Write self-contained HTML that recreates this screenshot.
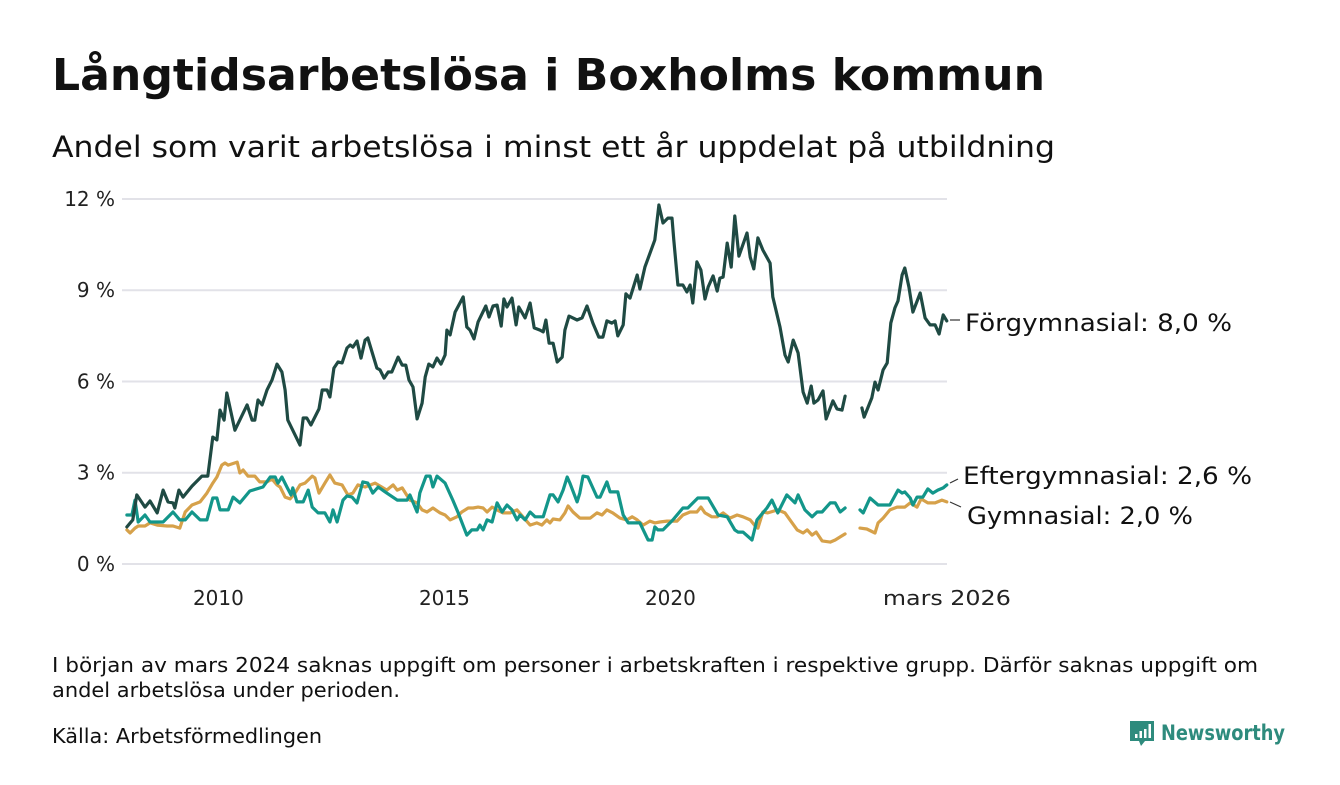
<!DOCTYPE html>
<html><head><meta charset="utf-8"><style>
body{margin:0;background:#fff;width:1340px;height:780px;overflow:hidden;font-family:"Liberation Sans","DejaVu Sans",sans-serif;color:#111;}
svg text{font-family:"DejaVu Sans","Liberation Sans",sans-serif;}
</style></head><body>
<svg id="chart" width="1340" height="780" viewBox="0 0 1340 780" xmlns="http://www.w3.org/2000/svg">
<text x="52" y="90" font-size="44" font-weight="bold" fill="#111" textLength="993" lengthAdjust="spacingAndGlyphs">Långtidsarbetslösa i Boxholms kommun</text>
<text x="52" y="157" font-size="29" fill="#111" textLength="1003" lengthAdjust="spacingAndGlyphs">Andel som varit arbetslösa i minst ett år uppdelat på utbildning</text>
<g id="grid"></g>
<g id="yticks"></g>
<g id="xticks"></g>
<g id="series"></g>
<g id="labels"></g>
<text x="52" y="672" font-size="20" fill="#111" textLength="1206" lengthAdjust="spacingAndGlyphs">I början av mars 2024 saknas uppgift om personer i arbetskraften i respektive grupp. Därför saknas uppgift om</text>
<text x="52" y="697" font-size="20" fill="#111" textLength="348" lengthAdjust="spacingAndGlyphs">andel arbetslösa under perioden.</text>
<text x="52" y="743" font-size="20" fill="#111" textLength="270" lengthAdjust="spacingAndGlyphs">Källa: Arbetsförmedlingen</text>
<g>
<path d="M1130 721 h24 v20 h-9 l-4 5 l-2 -5 h-9 z" fill="#2e8b7d"/>
<rect x="1135" y="734" width="2.5" height="4" fill="#fff"/><rect x="1139.5" y="731" width="2.5" height="7" fill="#fff"/><rect x="1144" y="729" width="2.5" height="9" fill="#fff"/><rect x="1148.5" y="724" width="2.5" height="14" fill="#fff"/>
<text x="1161" y="740" font-size="21" font-weight="bold" fill="#2e8b7d" textLength="124" lengthAdjust="spacingAndGlyphs">Newsworthy</text>
</g>
</svg>
<script>
const yTicks=[0,3,6,9,12];
const yTickLabels=["0 %","3 %","6 %","9 %","12 %"];
const xTicks=[2010,2015,2020,2026.16];
const xTickLabels=["2010","2015","2020","mars 2026"];
const forgDates=[2008.02,2008.15,2008.24,2008.42,2008.53,2008.69,2008.82,2008.93,2009.04,2009.08,2009.17,2009.26,2009.46,2009.68,2009.81,2009.92,2010.01,2010.08,2010.17,2010.23,2010.41,2010.68,2010.79,2010.85,2010.92,2011.01,2011.12,2011.23,2011.34,2011.45,2011.52,2011.58,2011.85,2011.92,2012.00,2012.09,2012.27,2012.34,2012.45,2012.51,2012.60,2012.69,2012.78,2012.89,2012.96,2013.02,2013.11,2013.20,2013.29,2013.35,2013.55,2013.62,2013.71,2013.80,2013.88,2014.02,2014.11,2014.19,2014.26,2014.35,2014.44,2014.55,2014.62,2014.70,2014.79,2014.88,2014.97,2015.06,2015.10,2015.17,2015.28,2015.46,2015.54,2015.61,2015.70,2015.79,2015.96,2016.03,2016.12,2016.21,2016.30,2016.36,2016.43,2016.54,2016.63,2016.69,2016.83,2016.94,2017.03,2017.16,2017.23,2017.29,2017.36,2017.45,2017.54,2017.65,2017.71,2017.80,2017.98,2018.09,2018.20,2018.33,2018.46,2018.55,2018.64,2018.75,2018.82,2018.88,2019.00,2019.06,2019.15,2019.31,2019.37,2019.48,2019.70,2019.79,2019.88,2019.99,2020.08,2020.12,2020.21,2020.32,2020.41,2020.48,2020.54,2020.63,2020.72,2020.81,2020.88,2020.99,2021.08,2021.14,2021.21,2021.30,2021.39,2021.47,2021.56,2021.74,2021.81,2021.89,2021.98,2022.09,2022.25,2022.31,2022.47,2022.58,2022.65,2022.76,2022.87,2022.98,2023.07,2023.16,2023.22,2023.31,2023.42,2023.49,2023.64,2023.73,2023.84,2023.91,2024.10,2024.28,2024.33,2024.50,2024.57,2024.64,2024.75,2024.84,2024.92,2025.01,2025.08,2025.17,2025.23,2025.32,2025.41,2025.57,2025.68,2025.79,2025.90,2025.99,2026.08,2026.16];
const forgValues=[1.22,1.45,2.27,1.87,2.07,1.68,2.43,2.04,2.01,1.84,2.43,2.20,2.56,2.89,2.89,4.17,4.08,5.06,4.73,5.62,4.40,5.23,4.73,4.73,5.39,5.23,5.72,6.05,6.57,6.31,5.72,4.73,3.91,4.80,4.80,4.57,5.10,5.72,5.72,5.49,6.44,6.64,6.61,7.10,7.20,7.13,7.33,6.77,7.36,7.43,6.44,6.38,6.11,6.31,6.31,6.80,6.54,6.54,6.05,5.82,4.77,5.29,6.15,6.57,6.48,6.77,6.57,6.87,7.69,7.53,8.28,8.78,7.79,7.69,7.40,7.96,8.48,8.12,8.48,8.51,7.82,8.71,8.45,8.74,7.86,8.45,8.09,8.58,7.76,7.69,7.63,8.02,7.26,7.26,6.64,6.80,7.69,8.15,8.02,8.09,8.48,7.92,7.46,7.46,7.99,7.92,7.99,7.50,7.86,8.88,8.74,9.50,9.04,9.76,10.65,11.80,11.21,11.37,11.37,10.65,9.17,9.17,8.94,9.17,8.58,9.93,9.66,8.71,9.11,9.47,8.97,9.40,9.43,10.55,9.76,11.44,10.12,10.88,10.09,9.70,10.72,10.32,9.89,8.78,7.79,6.87,6.64,7.36,6.94,5.65,5.29,5.85,5.29,5.39,5.69,4.77,5.36,5.10,5.06,5.52,null,5.13,4.83,5.46,5.98,5.72,6.38,6.61,7.92,8.42,8.65,9.50,9.73,9.11,8.28,8.91,8.09,7.86,7.86,7.56,8.19,7.99];
const efterDates=[2008.02,2008.13,2008.20,2008.27,2008.42,2008.53,2008.82,2009.04,2009.19,2009.31,2009.46,2009.64,2009.79,2009.92,2010.01,2010.08,2010.26,2010.37,2010.52,2010.74,2011.03,2011.19,2011.30,2011.36,2011.45,2011.56,2011.65,2011.69,2011.78,2011.92,2012.03,2012.12,2012.25,2012.40,2012.51,2012.58,2012.67,2012.80,2012.89,2013.00,2013.11,2013.24,2013.35,2013.46,2013.58,2013.77,2014.00,2014.22,2014.28,2014.44,2014.50,2014.64,2014.73,2014.79,2014.88,2015.06,2015.23,2015.35,2015.54,2015.65,2015.77,2015.83,2015.90,2015.99,2016.10,2016.21,2016.32,2016.43,2016.54,2016.65,2016.72,2016.83,2016.94,2017.05,2017.23,2017.38,2017.45,2017.56,2017.67,2017.76,2017.82,2017.98,2018.04,2018.11,2018.22,2018.42,2018.49,2018.64,2018.71,2018.88,2019.00,2019.11,2019.37,2019.55,2019.64,2019.70,2019.77,2019.88,2020.10,2020.32,2020.43,2020.65,2020.88,2021.10,2021.30,2021.47,2021.54,2021.65,2021.85,2021.96,2022.18,2022.29,2022.42,2022.62,2022.80,2022.87,2023.02,2023.18,2023.29,2023.40,2023.58,2023.69,2023.80,2023.91,2024.10,2024.24,2024.31,2024.46,2024.64,2024.90,2025.08,2025.17,2025.23,2025.35,2025.41,2025.50,2025.63,2025.74,2025.85,2025.96,2026.08,2026.16];
const efterValues=[1.61,1.61,2.10,1.38,1.61,1.38,1.38,1.71,1.45,1.45,1.71,1.45,1.45,2.17,2.17,1.78,1.78,2.20,2.01,2.40,2.53,2.86,2.86,2.66,2.86,2.53,2.27,2.50,2.04,2.04,2.43,1.87,1.68,1.68,1.38,1.78,1.38,2.10,2.24,2.20,2.01,2.70,2.66,2.33,2.53,2.33,2.10,2.10,2.27,1.71,2.33,2.89,2.89,2.53,2.89,2.66,2.10,1.68,0.95,1.12,1.12,1.28,1.12,1.45,1.38,2.01,1.71,1.94,1.78,1.45,1.61,1.45,1.71,1.55,1.55,2.27,2.27,2.04,2.43,2.86,2.66,2.04,2.33,2.89,2.86,2.20,2.20,2.70,2.37,2.37,1.61,1.35,1.35,0.79,0.79,1.22,1.12,1.12,1.45,1.84,1.84,2.17,2.17,1.61,1.55,1.12,1.05,1.05,0.79,1.45,1.84,2.10,1.68,2.27,2.01,2.27,1.78,1.55,1.71,1.71,2.01,2.01,1.71,1.84,null,1.78,1.68,2.17,1.94,1.94,2.43,2.33,2.37,2.17,1.94,2.20,2.20,2.47,2.33,2.43,2.50,2.60];
const gymDates=[2008.02,2008.09,2008.20,2008.27,2008.42,2008.53,2008.69,2008.91,2009.04,2009.19,2009.31,2009.46,2009.64,2009.79,2009.92,2010.01,2010.12,2010.19,2010.26,2010.46,2010.52,2010.59,2010.70,2010.85,2010.96,2011.12,2011.23,2011.34,2011.41,2011.52,2011.63,2011.74,2011.85,2011.96,2012.12,2012.18,2012.27,2012.40,2012.51,2012.62,2012.78,2012.91,2013.02,2013.13,2013.29,2013.51,2013.77,2013.91,2014.00,2014.11,2014.28,2014.44,2014.55,2014.66,2014.79,2014.95,2015.06,2015.17,2015.32,2015.43,2015.57,2015.68,2015.79,2015.90,2015.99,2016.10,2016.21,2016.34,2016.50,2016.65,2016.78,2016.94,2017.09,2017.20,2017.31,2017.38,2017.45,2017.60,2017.71,2017.78,2017.89,2018.04,2018.27,2018.42,2018.53,2018.64,2018.77,2018.93,2019.08,2019.20,2019.31,2019.44,2019.59,2019.70,2019.81,2019.97,2020.19,2020.32,2020.48,2020.63,2020.72,2020.81,2020.96,2021.08,2021.21,2021.36,2021.52,2021.65,2021.81,2021.92,2021.98,2022.09,2022.20,2022.42,2022.58,2022.69,2022.85,2022.98,2023.07,2023.18,2023.27,2023.40,2023.58,2023.69,2023.80,2023.91,2024.10,2024.24,2024.39,2024.57,2024.64,2024.75,2024.90,2025.06,2025.23,2025.35,2025.50,2025.59,2025.74,2025.90,2026.05,2026.16];
const gymValues=[1.12,1.02,1.18,1.25,1.25,1.35,1.28,1.25,1.25,1.18,1.71,1.94,2.04,2.33,2.66,2.86,3.25,3.32,3.25,3.35,2.99,3.09,2.89,2.89,2.70,2.70,2.79,2.60,2.53,2.20,2.14,2.33,2.60,2.66,2.89,2.83,2.33,2.66,2.93,2.66,2.60,2.27,2.33,2.60,2.53,2.66,2.43,2.60,2.43,2.50,2.10,2.01,1.78,1.71,1.84,1.68,1.61,1.45,1.55,1.71,1.84,1.84,1.87,1.84,1.71,1.87,1.78,1.68,1.68,1.78,1.55,1.28,1.35,1.28,1.45,1.35,1.48,1.45,1.68,1.91,1.71,1.51,1.51,1.68,1.61,1.78,1.68,1.51,1.45,1.55,1.45,1.28,1.41,1.35,1.38,1.41,1.41,1.61,1.71,1.71,1.87,1.68,1.55,1.55,1.68,1.51,1.61,1.55,1.45,1.25,1.18,1.71,1.68,1.78,1.68,1.45,1.12,1.02,1.12,0.95,1.05,0.76,0.72,0.79,0.89,0.99,null,1.18,1.15,1.02,1.35,1.51,1.78,1.87,1.87,2.01,1.87,2.14,2.01,2.01,2.10,2.04];

const NS='http://www.w3.org/2000/svg';
const X0=126, PXY=45.2, Y0=564, PXV=30.42;
function xScale(d){return X0+(d-2008.0)*PXY;}
function yScale(v){return Y0-v*PXV;}
function mk(tag,attrs,parent){const e=document.createElementNS(NS,tag);for(const k in attrs)e.setAttribute(k,attrs[k]);parent.appendChild(e);return e;}
const grid=document.getElementById('grid'),yt=document.getElementById('yticks'),xt=document.getElementById('xticks'),ser=document.getElementById('series'),lab=document.getElementById('labels');
yTicks.forEach((t,i)=>{
  const l=mk('line',{x1:122,x2:947,y1:yScale(t),y2:yScale(t),stroke:'#e2e2e8','stroke-width':2},grid);
  
  
  const tx=mk('text',{x:115,y:yScale(t)+7,'text-anchor':'end','font-size':20,fill:'#222'},yt);
  
  
  tx.textContent=yTickLabels[i];
});
xTicks.forEach((t,i)=>{
  const attrs={x:xScale(t)+(i==3?0:2),y:605,'text-anchor':'middle','font-size':20,fill:'#222'};
  if(i==3){attrs.textLength=128;attrs.lengthAdjust='spacingAndGlyphs';}
  const tx=mk('text',attrs,xt);
  
  
  tx.textContent=xTickLabels[i];
});
function draw(dates,vals,color,name){
  let d='',pen=false;
  for(let i=0;i<dates.length;i++){
    if(vals[i]===null){pen=false;continue;}
    d+=(pen?'L':'M')+xScale(dates[i]).toFixed(1)+' '+yScale(vals[i]).toFixed(1)+' ';pen=true;
  }
  const p=mk('path',{d:d,fill:'none',stroke:color,'stroke-width':3.2,'stroke-linejoin':'round','stroke-linecap':'round'},ser);
  
  
}
draw(gymDates,gymValues,'#d6a14a','gymnasial-line');
draw(efterDates,efterValues,'#13968a','eftergymnasial-line');
draw(forgDates,forgValues,'#1f4a43','forgymnasial-line');
const ends=[
 {t:'Förgymnasial: 8,0 %',x:965,y:331,w:267,l:[950,320,960,320]},
 {t:'Eftergymnasial: 2,6 %',x:963,y:484,w:289,l:[950,483,958,479]},
 {t:'Gymnasial: 2,0 %',x:967,y:524,w:226,l:[950,502,961,507]}];
ends.forEach(e=>{
  const ln=mk('line',{x1:e.l[0],y1:e.l[1],x2:e.l[2],y2:e.l[3],stroke:'#333','stroke-width':1.2},lab);
  
  
  const tx=mk('text',{x:e.x,y:e.y,'font-size':24,fill:'#111',textLength:e.w,lengthAdjust:'spacingAndGlyphs'},lab);
  
  
  tx.textContent=e.t;
});
</script>
</body></html>
